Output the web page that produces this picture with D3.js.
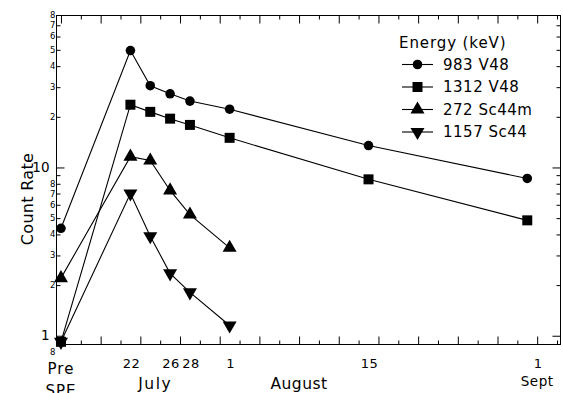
<!DOCTYPE html>
<html>
<head>
<meta charset="utf-8">
<script src="https://cdn.jsdelivr.net/npm/d3@7"></script>
<style>
  body { margin: 0; background: #fff; }
  svg text { font-family: "DejaVu Sans", sans-serif; fill: #000; }
</style>
</head>
<body>
<div id="chart"></div>
<script>
// x values are days counted from 0 July (so 1 Aug = 32, 1 Sept = 63)
var days = [15, 22, 24, 26, 28, 32, 46, 62];

var v48_983 = [4.35, 49.5, 30.6, 27.4, 24.8, 22.2, 13.5, 8.6];
var v48_1312 = [0.92, 23.6, 21.4, 19.5, 17.9, 15.0, 8.5, 4.85];
var sc44m_272 = [2.2, 11.6, 11.0, 7.3, 5.25, 3.33];
var sc44_1157 = [0.92, 7.0, 3.9, 2.35, 1.81, 1.15];

var seriesNames = ['983 V48', '1312 V48', '272 Sc44m', '1157 Sc44'];
var seriesSymbols = [d3.symbolCircle, d3.symbolSquare, d3.symbolTriangle, d3.symbolTriangle];

// date labels under the x axis
var dayLabels = [22, 26, 28, 32, 46, 63];
var dayLabelText = ['22', '26', '28', '1', '15', '1'];
var monthLabels = ['July', 'August', 'Sept'];
var monthLabelDays = [24.5, 39, 63];

var width = 563,
    height = 393,
    mLeft = 56.5,
    mRight = 560.5,
    mTop = 15.5,
    mBottom = 344.5;

var x = d3.scaleLinear()
    .domain([14.55, 65.35])
    .range([mLeft, mRight]);

var y = d3.scaleLog()
    .domain([0.887, 80])
    .range([mBottom, mTop]);

var svg = d3.select('#chart')
    .append('svg')
    .attr('width', width)
    .attr('height', height);

// ---- frame and ticks ----
var xMajor = d3.range(15, 66, 4);
var xMinor = d3.range(17, 66, 4);
var yMajor = [1, 10];
var yMinor = [2, 3, 4, 5, 6, 7, 8, 9, 20, 30, 40, 50, 60, 70];

function drawAxis(axis, tx, ty) {
    var g = svg.append('g')
        .attr('transform', 'translate(' + tx + ',' + ty + ')')
        .call(axis);
    g.select('.domain').remove();
    g.selectAll('text').remove();
    g.selectAll('line').attr('stroke', '#000').attr('stroke-width', 1);
}

drawAxis(d3.axisBottom(x).tickValues(xMajor).tickSize(-8), 0, mBottom);
drawAxis(d3.axisBottom(x).tickValues(xMinor).tickSize(-4), 0, mBottom);
drawAxis(d3.axisTop(x).tickValues(xMajor).tickSize(-8), 0, mTop);
drawAxis(d3.axisTop(x).tickValues(xMinor).tickSize(-4), 0, mTop);
drawAxis(d3.axisLeft(y).tickValues(yMajor).tickSize(-8), mLeft, 0);
drawAxis(d3.axisLeft(y).tickValues(yMinor).tickSize(-4), mLeft, 0);
drawAxis(d3.axisRight(y).tickValues(yMajor).tickSize(-8), mRight, 0);
drawAxis(d3.axisRight(y).tickValues(yMinor).tickSize(-4), mRight, 0);

svg.append('rect')
    .attr('x', mLeft)
    .attr('y', mTop)
    .attr('width', mRight - mLeft)
    .attr('height', mBottom - mTop)
    .attr('fill', 'none')
    .attr('stroke', '#000')
    .attr('stroke-width', 1);

// y tick labels
var yLabelVals = [0.8, 2, 3, 4, 5, 6, 7, 8, 20, 30, 40, 50, 60, 70, 80];
svg.selectAll('.ylab-minor')
    .data(yLabelVals)
    .enter()
    .append('text')
    .attr('x', mLeft - 1)
    .attr('y', function(d) { return y(d); })
    .attr('dy', '0.35em')
    .attr('text-anchor', 'end')
    .style('font-size', '8.5px')
    .text(function(d) { return String(d).replace('0.', '').charAt(0); });

svg.selectAll('.ylab-major')
    .data(yMajor)
    .enter()
    .append('text')
    .attr('x', mLeft - 7)
    .attr('y', function(d) { return y(d); })
    .attr('dy', '0.35em')
    .attr('text-anchor', 'end')
    .style('font-size', '13.5px')
    .text(function(d) { return d; });

// x labels
svg.selectAll('.xlab')
    .data(dayLabels)
    .enter()
    .append('text')
    .attr('x', function(d) { return x(d); })
    .attr('y', 368)
    .attr('dx', 1)
    .attr('text-anchor', 'middle')
    .style('font-size', '13px')
    .style('letter-spacing', '0.5px')
    .text(function(d, i) { return dayLabelText[i]; });

svg.selectAll('.month')
    .data(monthLabels)
    .enter()
    .append('text')
    .attr('x', function(d, i) { return x(monthLabelDays[i]); })
    .attr('y', function(d, i) { return i == 2 ? 386 : 389; })
    .attr('text-anchor', 'middle')
    .style('font-size', function(d, i) { return i == 2 ? '13.5px' : '15.5px'; })
    .style('letter-spacing', function(d, i) { return i == 0 ? '1.5px' : '0.5px'; })
    .text(function(d) { return d; });

svg.append('text')
    .attr('x', x(15))
    .attr('y', 374)
    .attr('text-anchor', 'middle')
    .style('font-size', '15px')
    .style('letter-spacing', '1px')
    .text('Pre');
svg.append('text')
    .attr('x', x(15))
    .attr('y', 396)
    .attr('text-anchor', 'middle')
    .style('font-size', '15px')
    .style('letter-spacing', '1px')
    .text('SPE');

svg.append('text')
    .attr('transform', 'translate(33,199) rotate(-90)')
    .attr('text-anchor', 'middle')
    .style('font-size', '16px')
    .style('letter-spacing', '0.3px')
    .text('Count Rate');

// ---- series ----
var allSeries = [v48_983, v48_1312, sc44m_272, sc44_1157];
var symSizes = [72, 100, 85, 85];

var line = d3.line()
    .x(function(d) { return x(d[0]); })
    .y(function(d) { return y(d[1]); });

allSeries.forEach(function(vals, i) {
    var pts = vals.map(function(v, j) { return [days[j], v]; });
    svg.append('path')
        .datum(pts)
        .attr('d', line)
        .attr('fill', 'none')
        .attr('stroke', '#000')
        .attr('stroke-width', 1.1);
    svg.selectAll('.m' + i)
        .data(pts)
        .enter()
        .append('path')
        .attr('d', d3.symbol().type(seriesSymbols[i]).size(symSizes[i]))
        .attr('transform', function(d) {
            return 'translate(' + x(d[0]) + ',' + y(d[1]) + ')' + (i == 3 ? ' rotate(180)' : '');
        })
        .attr('fill', '#000');
});

// ---- legend ----
var legend = svg.append('g');
legend.append('text')
    .attr('x', 399)
    .attr('y', 48)
    .style('font-size', '15px')
    .style('letter-spacing', '0.9px')
    .text('Energy (keV)');

seriesNames.forEach(function(name, i) {
    var ly = 64.5 + i * 22.5;
    legend.append('line')
        .attr('x1', 402).attr('x2', 433)
        .attr('y1', ly).attr('y2', ly)
        .attr('stroke', '#000')
        .attr('stroke-width', 1.1);
    legend.append('path')
        .attr('d', d3.symbol().type(seriesSymbols[i]).size(symSizes[i]))
        .attr('transform', 'translate(417.5,' + ly + ')' + (i == 3 ? ' rotate(180)' : ''))
        .attr('fill', '#000');
    legend.append('text')
        .attr('x', 443)
        .attr('y', ly)
        .attr('dy', '0.36em')
        .style('font-size', '15px')
        .style('letter-spacing', '0.5px')
        .text(name);
});
</script>
</body>
</html>
